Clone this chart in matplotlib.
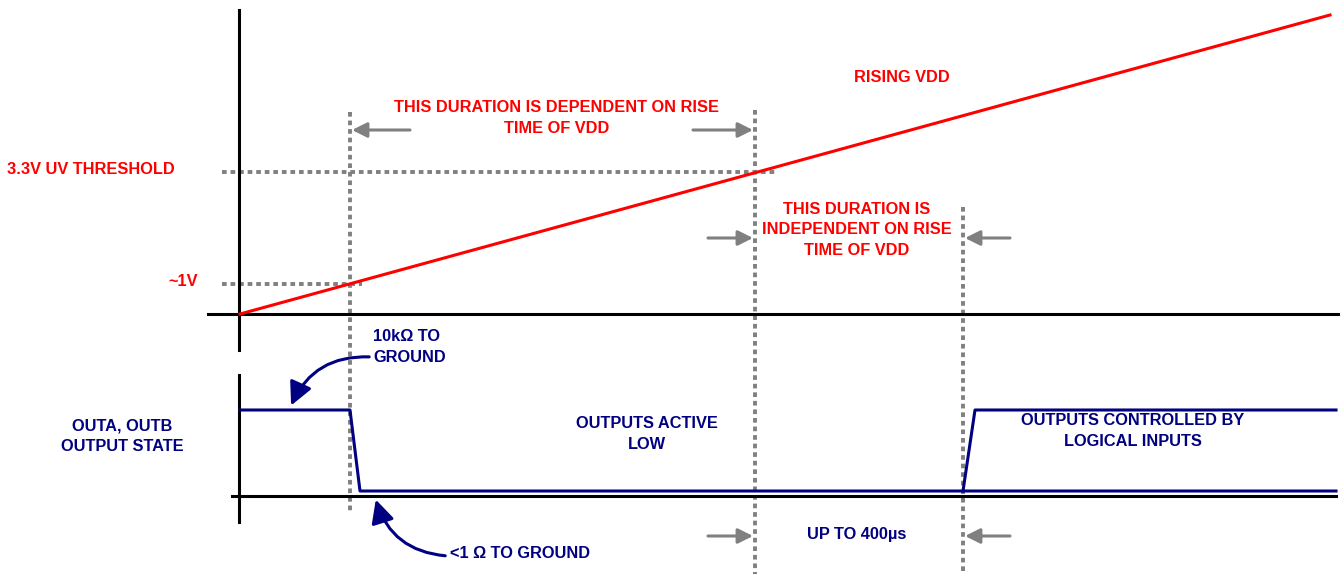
import matplotlib
matplotlib.use("Agg")
from matplotlib import pyplot as plt, patches

# diagram is laid out in pixel units of the 1341x574 picture (y grows down)
W, H = 1341, 574
RED = '#ff0000'
NAVY = '#000080'
GREY = '#808080'

# key instants on the time axis
t_origin = 240
t_1v = 350
t_uv = 755
t_ready = 963
t_end = 1336

# upper panel (VDD)
vdd_axis_y = 314
vdd_x = [240, 1330]
vdd_y = [314, 15]
level_1v = 284
level_uv = 172

# lower panel (output state)
out_axis_y = 496
out_high = 410
out_low = 491
out_x = [240, 350, 360, 1336]
out_y = [out_high, out_high, out_low, out_low]
ctl_x = [963, 975, 1336]
ctl_y = [out_low, out_high, out_high]

plt.rcParams['font.family'] = ['Liberation Sans', 'DejaVu Sans']
fig = plt.figure(figsize=(W / 100, H / 100), dpi=100)
ax = fig.add_axes([0, 0, 1, 1])
ax.set_xlim(0, W)
ax.set_ylim(H, 0)
ax.axis('off')

dots = dict(color=GREY, lw=2.8, ls=(0, (1.2, 1.0)), solid_capstyle='butt')

# grey guides
ax.plot([222, 775], [level_uv, level_uv], **dots)
ax.plot([222, 362], [level_1v, level_1v], **dots)
ax.plot([t_1v, t_1v], [112, 512], **dots)
ax.plot([t_uv, t_uv], [110, 574], **dots)
ax.plot([t_ready, t_ready], [207, 574], **dots)

# axes of both panels
ax.plot([239, 239], [10, 350], color='black', lw=2.2)
ax.plot([208, 1338], [vdd_axis_y, vdd_axis_y], color='black', lw=2.2)
ax.plot([239, 239], [375, 522], color='black', lw=2.2)
ax.plot([232, 1336], [out_axis_y, out_axis_y], color='black', lw=2.2)

# signals
ax.plot(vdd_x, vdd_y, color=RED, lw=2.2)
ax.plot(out_x, out_y, color=NAVY, lw=2.2)
ax.plot(ctl_x, ctl_y, color=NAVY, lw=2.2)


def grey_arrow(x0, x1, y):
    ax.annotate('', xy=(x1, y), xytext=(x0, y),
                arrowprops=dict(arrowstyle='-|>,head_length=0.9,head_width=0.45',
                                color=GREY, lw=2.2, shrinkA=0, shrinkB=0))


grey_arrow(410, t_1v + 2, 130)
grey_arrow(693, t_uv - 2, 130)
grey_arrow(708, t_uv - 2, 238)
grey_arrow(1010, t_ready + 2, 238)
grey_arrow(708, t_uv - 2, 536)
grey_arrow(1010, t_ready + 2, 536)

# curved callouts
ax.add_patch(patches.FancyArrowPatch((372, 357), (290, 408),
                                     connectionstyle='arc3,rad=0.35',
                                     arrowstyle='-|>,head_length=7,head_width=3.5',
                                     color=NAVY, lw=2.2, mutation_scale=2))
ax.add_patch(patches.FancyArrowPatch((448, 556), (375, 497),
                                     connectionstyle='arc3,rad=-0.35',
                                     arrowstyle='-|>,head_length=7,head_width=3.5',
                                     color=NAVY, lw=2.2, mutation_scale=2))

txt = dict(fontsize=11.8, fontweight='bold', linespacing=1.42)
ax.text(902, 77, 'RISING VDD', color=RED, ha='center', va='center', **txt)
ax.text(557, 118, 'THIS DURATION IS DEPENDENT ON RISE\nTIME OF VDD',
        color=RED, ha='center', va='center', **txt)
ax.text(7, 170, '3.3V UV THRESHOLD', color=RED, ha='left', va='center', **txt)
ax.text(168, 282, '~1V', color=RED, ha='left', va='center', **txt)
ax.text(857, 230, 'THIS DURATION IS\nINDEPENDENT ON RISE\nTIME OF VDD',
        color=RED, ha='center', va='center', **txt)
ax.text(373, 347, '10kΩ TO\nGROUND', color=NAVY, ha='left', va='center', **txt)
ax.text(122, 436, 'OUTA, OUTB\nOUTPUT STATE', color=NAVY, ha='center', va='center', **txt)
ax.text(647, 434, 'OUTPUTS ACTIVE\nLOW', color=NAVY, ha='center', va='center', **txt)
ax.text(1133, 431, 'OUTPUTS CONTROLLED BY\nLOGICAL INPUTS', color=NAVY,
        ha='center', va='center', **txt)
ax.text(857, 535, 'UP TO 400µs', color=NAVY, ha='center', va='center', **txt)
ax.text(450, 553, '<1 Ω TO GROUND', color=NAVY, ha='left', va='center', **txt)

fig.savefig('out.png', dpi=100)
